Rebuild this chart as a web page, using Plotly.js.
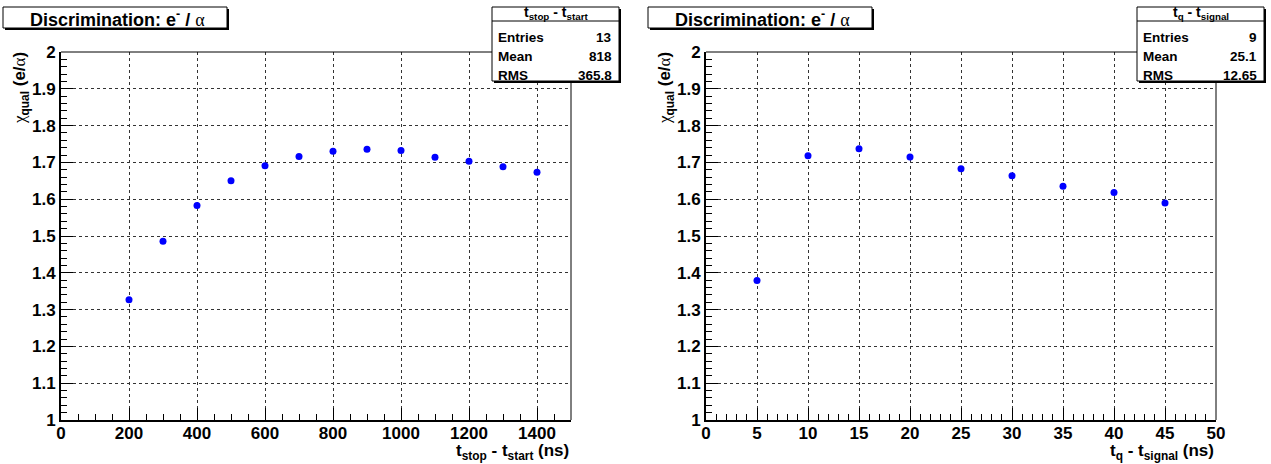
<!DOCTYPE html>
<html>
<head>
<meta charset="utf-8">
<script src="https://cdn.plot.ly/plotly-3.0.1.min.js"></script>
<style>html,body{margin:0;padding:0;background:#fff;}#chart{width:1271px;height:464px;}</style>
</head>
<body>
<div id="chart"></div>
<script>
// ---- data ----
const tWindow = [200, 300, 400, 500, 600, 700, 800, 900, 1000, 1100, 1200, 1300, 1400];
const chiWindow = [1.327, 1.486, 1.583, 1.650, 1.691, 1.716, 1.730, 1.736, 1.732, 1.714, 1.703, 1.688, 1.673];
const tQ = [5, 10, 15, 20, 25, 30, 35, 40, 45];
const chiQ = [1.379, 1.718, 1.737, 1.715, 1.683, 1.664, 1.635, 1.618, 1.590];
const statsLabels = ["Entries", "Mean", "RMS"];
const statsLeft = ["13", "818", "365.8"];
const statsRight = ["9", "25.1", "12.65"];
const plotTitle = "<b>Discrimination: e<sup>-</sup> / </b><span style=\"font-family:'Liberation Serif'\">α</span>";
const statsTitleLeft = "<b>t<sub>stop</sub> - t<sub>start</sub></b>";
const statsTitleRight = "<b>t<sub>q</sub> - t<sub>signal</sub></b>";
const xTitleLeft = "<b>t<sub>stop</sub> - t<sub>start</sub> (ns)</b>";
const xTitleRight = "<b>t<sub>q</sub> - t<sub>signal</sub> (ns)</b>";
const yTitle = "<span style=\"font-family:'Liberation Serif'\">χ</span><b><sub>qual</sub> (e/</b><span style=\"font-family:'Liberation Serif'\">α</span><b>)</b>";

// ---- layout helpers (pixel -> paper) ----
const W = 1271, H = 464;
const px = x => x / W;
const py = y => 1 - y / H;
const FONT = 'Liberation Sans';

const panels = [
  {x0: 61, x1: 571, range: [0, 1500], dtick: 200, minor: 50},
  {x0: 706, x1: 1216, range: [0, 50], dtick: 5, minor: 1}
];
const yTop = 52, yBot = 420;

function xaxis(p, anchor) {
  return {
    domain: [px(p.x0), px(p.x1)], range: p.range, anchor: anchor,
    dtick: p.dtick, tick0: 0, ticks: 'inside', ticklen: 12, tickwidth: 1, tickcolor: '#000',
    minor: {dtick: p.minor, ticks: 'inside', ticklen: 6, tickwidth: 1, tickcolor: '#000', showgrid: false},
    showline: true, linecolor: '#000', linewidth: 2, mirror: false,
    showgrid: true, gridcolor: '#333', griddash: 'dot', gridwidth: 1,
    zeroline: false, fixedrange: true, ticklabelstandoff: -3,
    tickfont: {family: FONT, size: 17, weight: 'bold', color: '#000'}
  };
}
function yaxis(anchor) {
  return {
    domain: [py(yBot), py(yTop)], range: [1, 2], anchor: anchor,
    dtick: 0.1, tick0: 1, ticks: 'inside', ticklen: 12, tickwidth: 1, tickcolor: '#000',
    minor: {dtick: 0.02, ticks: 'inside', ticklen: 6, tickwidth: 1, tickcolor: '#000', showgrid: false},
    showline: true, linecolor: '#000', linewidth: 2, mirror: false,
    showgrid: true, gridcolor: '#333', griddash: 'dot', gridwidth: 1,
    zeroline: false, fixedrange: true,
    tickfont: {family: FONT, size: 17, weight: 'bold', color: '#000'}
  };
}

const marker = {color: '#0000ff', size: 7, symbol: 'circle'};
const traces = [
  {x: tWindow, y: chiWindow, xaxis: 'x', yaxis: 'y', type: 'scatter', mode: 'markers', marker: marker, cliponaxis: false},
  {x: tQ, y: chiQ, xaxis: 'x2', yaxis: 'y2', type: 'scatter', mode: 'markers', marker: marker, cliponaxis: false}
];

const shapes = [];
const annotations = [];

function rectPx(x0, y0, x1, y1, fill, line) {
  shapes.push({type: 'rect', xref: 'paper', yref: 'paper', x0: px(x0), x1: px(x1), y0: py(y1), y1: py(y0),
    fillcolor: fill, line: line ? {color: '#000', width: 1} : {width: 0}, layer: 'above'});
}
function linePx(x0, y0, x1, y1, w) {
  shapes.push({type: 'line', xref: 'paper', yref: 'paper', x0: px(x0), x1: px(x1), y0: py(y0), y1: py(y1),
    line: {color: '#000', width: w}, layer: 'above'});
}
function text(x, y, t, size, xanchor, opts) {
  annotations.push(Object.assign({xref: 'paper', yref: 'paper', x: px(x), y: py(y), text: t, showarrow: false,
    xanchor: xanchor, yanchor: 'middle', font: {family: FONT, size: size, color: '#000'}}, opts || {}));
}

panels.forEach((p, i) => {
  const off = i === 0 ? 0 : 645;
  // frame top/right
  linePx(p.x0, yTop, p.x1, yTop, 1);
  linePx(p.x1, yTop, p.x1, yBot, 1);
  // title box with shadow
  rectPx(5 + off, 9, 229 + off, 30, '#000', false);
  rectPx(3 + off, 7, 227 + off, 28, '#fff', true);
  text(117 + off, 18, plotTitle, 18, 'center');
  // stats box with shadow
  const bx0 = 492 + off, bx1 = 619 + off;
  rectPx(bx0 + 2, 9, bx1 + 2, 83, '#000', false);
  rectPx(bx0, 7, bx1, 81, '#fff', true);
  linePx(bx0, 21, bx1, 21, 1);
  text((bx0 + bx1) / 2, 13, i === 0 ? statsTitleLeft : statsTitleRight, 14, 'center');
  const vals = i === 0 ? statsLeft : statsRight;
  statsLabels.forEach((lab, k) => {
    const yy = 37 + k * 19;
    text(bx0 + 4, yy, '<b>' + lab + '</b>', 13.5, 'left');
    text(bx1 - 5, yy, '<b>' + vals[k] + '</b>', 13.5, 'right');
  });
  // axis titles
  text(p.x1, 451.5, i === 0 ? xTitleLeft : xTitleRight, 17, 'right');
  annotations.push({xref: 'paper', yref: 'paper', x: px(21 + off), y: py(50), text: yTitle, showarrow: false,
    textangle: -90, xanchor: 'center', yanchor: 'top', font: {family: FONT, size: 17, color: '#000'}});
});

const layout = {
  width: W, height: H,
  margin: {l: 0, r: 0, t: 0, b: 0},
  paper_bgcolor: '#fff', plot_bgcolor: '#fff',
  showlegend: false,
  xaxis: xaxis(panels[0], 'y'),
  yaxis: yaxis('x'),
  xaxis2: xaxis(panels[1], 'y2'),
  yaxis2: yaxis('x2'),
  shapes: shapes,
  annotations: annotations
};

Plotly.newPlot('chart', traces, layout, {displayModeBar: false, staticPlot: true});
</script>
</body>
</html>
